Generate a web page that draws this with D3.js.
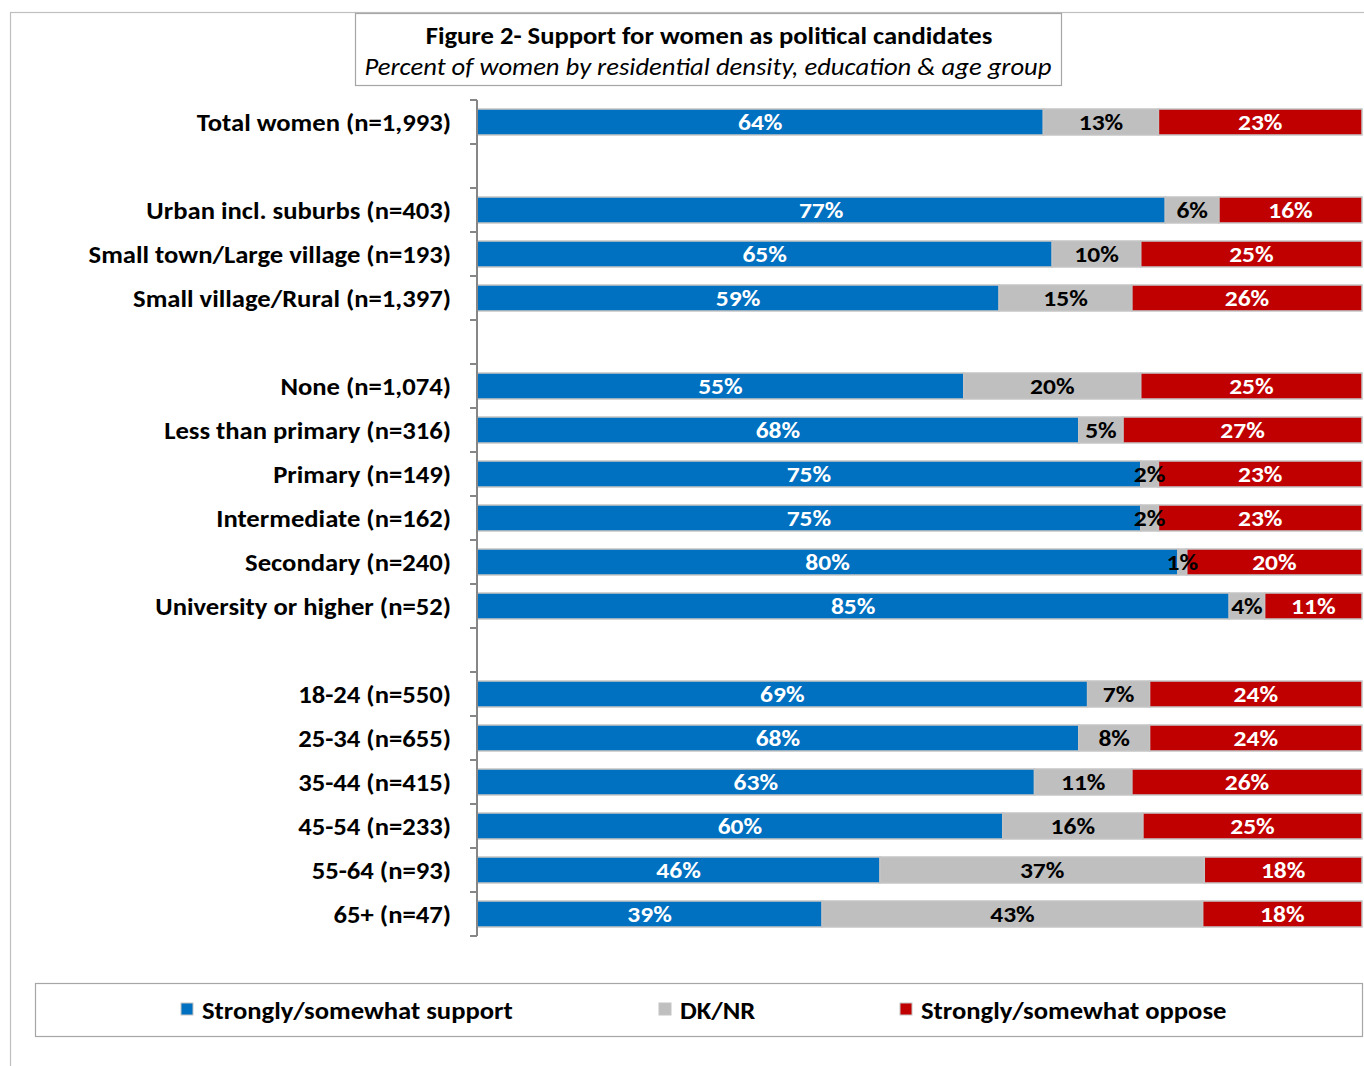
<!DOCTYPE html>
<html>
<head>
<meta charset="utf-8">
<script src="https://cdn.jsdelivr.net/npm/d3@7"></script>
<style>
  html, body { margin: 0; padding: 0; background: #fff; }
  svg { display: block; }
  text { font-family: Carlito, Calibri, Lato, "Open Sans", sans-serif; }
</style>
</head>
<body>
<svg id="chart" width="1364" height="1066"></svg>
<script>
// ---- data ----
const categories = [
  "Total women (n=1,993)",
  "Urban incl. suburbs (n=403)",
  "Small town/Large village (n=193)",
  "Small village/Rural (n=1,397)",
  "None (n=1,074)",
  "Less than primary (n=316)",
  "Primary (n=149)",
  "Intermediate (n=162)",
  "Secondary (n=240)",
  "University or higher (n=52)",
  "18-24 (n=550)",
  "25-34 (n=655)",
  "35-44 (n=415)",
  "45-54 (n=233)",
  "55-64 (n=93)",
  "65+ (n=47)"
];
const support = [64, 77, 65, 59, 55, 68, 75, 75, 80, 85, 69, 68, 63, 60, 46, 39];
const dknr    = [13,  6, 10, 15, 20,  5,  2,  2,  1,  4,  7,  8, 11, 16, 37, 43];
const oppose  = [23, 16, 25, 26, 25, 27, 23, 23, 20, 11, 24, 24, 26, 25, 18, 18];
// blank rows follow these category indexes (group separators)
const gapsAfter = [0, 3, 9];
const seriesNames = ["Strongly/somewhat support", "DK/NR", "Strongly/somewhat oppose"];
const seriesColors = ["#0070C0", "#BFBFBF", "#C00000"];
const labelColors = ["#ffffff", "#000000", "#ffffff"];
const titleText = "Figure 2- Support for women as political candidates";
const subtitleText = "Percent of women by residential density, education & age group";

// ---- build rows ----
const rows = categories.map((c, i) => ({ cat: c, support: support[i], dknr: dknr[i], oppose: oppose[i] }));
const slots = [];
categories.forEach((c, i) => {
  slots.push(c);
  if (gapsAfter.includes(i)) slots.push("__gap" + i);
});

const SX = 1.11; // horizontal stretch of glyphs to match the reference
const svg = d3.select("#chart");

function stretchedText(parent, xPos, yPos, str, opts) {
  const t = parent.append("text")
    .attr("transform", `translate(${xPos},${yPos}) scale(${opts.sx || SX},1)`)
    .attr("text-anchor", opts.anchor || "start")
    .attr("dy", opts.dy || null)
    .attr("font-size", opts.size)
    .attr("font-weight", opts.weight || "normal")
    .attr("font-style", opts.style || "normal")
    .attr("fill", opts.fill || "#000")
    .text(str);
  return t;
}

// outer frame
svg.append("rect").attr("x", 10.5).attr("y", 12.5).attr("width", 1400).attr("height", 1100)
  .attr("fill", "none").attr("stroke", "#bfbfbf").attr("stroke-width", 1.2);

// title box
svg.append("rect").attr("x", 355.5).attr("y", 13.5).attr("width", 706).attr("height", 72)
  .attr("fill", "#fff").attr("stroke", "#a6a6a6").attr("stroke-width", 1.2);
stretchedText(svg, 709, 44, titleText, { anchor: "middle", size: 24, weight: "bold" });
stretchedText(svg, 708, 75, subtitleText, { anchor: "middle", size: 24, style: "italic" });

// scales
const x = d3.scaleLinear().domain([0, 1]).range([477, 1362]);
const y = d3.scaleBand().domain(slots).range([100, 936]).paddingInner(0.41).paddingOuter(0.205);

const keys = ["support", "dknr", "oppose"];
const stack = d3.stack().keys(keys).offset(d3.stackOffsetExpand);
const stacked = stack(rows);

const g = svg.append("g");
stacked.forEach((layer, li) => {
  g.append("g").selectAll("rect").data(layer).join("rect")
    .attr("x", d => x(d[0]))
    .attr("y", d => y(d.data.cat))
    .attr("width", d => x(d[1]) - x(d[0]))
    .attr("height", y.bandwidth())
    .attr("fill", seriesColors[li])
    .attr("stroke", "#c4c4c4")
    .attr("stroke-width", 1.5);
});
stacked.forEach((layer, li) => {
  const lg = g.append("g");
  layer.forEach(d => {
    stretchedText(lg, (x(d[0]) + x(d[1])) / 2, y(d.data.cat) + y.bandwidth() / 2,
      d.data[keys[li]] + "%",
      { anchor: "middle", dy: "0.36em", size: 23, weight: "bold", fill: labelColors[li] });
  });
});

// axis
const axisG = svg.append("g");
axisG.append("line").attr("x1", 477).attr("x2", 477).attr("y1", 100).attr("y2", 936)
  .attr("stroke", "#868686").attr("stroke-width", 2);
const step = y.step();
const tickYs = d3.range(slots.length + 1).map(i => 100 + i * step);
axisG.selectAll("line.tick").data(tickYs).join("line").attr("class", "tick")
  .attr("x1", 470).attr("x2", 477).attr("y1", d => d).attr("y2", d => d)
  .attr("stroke", "#868686").attr("stroke-width", 2);

// category labels
const cg = svg.append("g");
categories.forEach(c => {
  stretchedText(cg, 451, y(c) + y.bandwidth() / 2, c,
    { anchor: "end", dy: "0.36em", size: 24, weight: "bold" });
});

// legend
svg.append("rect").attr("x", 35.5).attr("y", 983.5).attr("width", 1327).attr("height", 53)
  .attr("fill", "#fff").attr("stroke", "#a6a6a6").attr("stroke-width", 1.2);
const legendX = [181, 659, 900];
const lgd = svg.append("g");
seriesNames.forEach((n, i) => {
  lgd.append("rect").attr("x", legendX[i]).attr("y", 1003).attr("width", 12).attr("height", 12)
    .attr("fill", seriesColors[i]).attr("stroke", "#c4c4c4").attr("stroke-width", 1);
  stretchedText(lgd, legendX[i] + 21, 1010, n, { dy: "0.36em", size: 24, weight: "bold" });
});
</script>
</body>
</html>
